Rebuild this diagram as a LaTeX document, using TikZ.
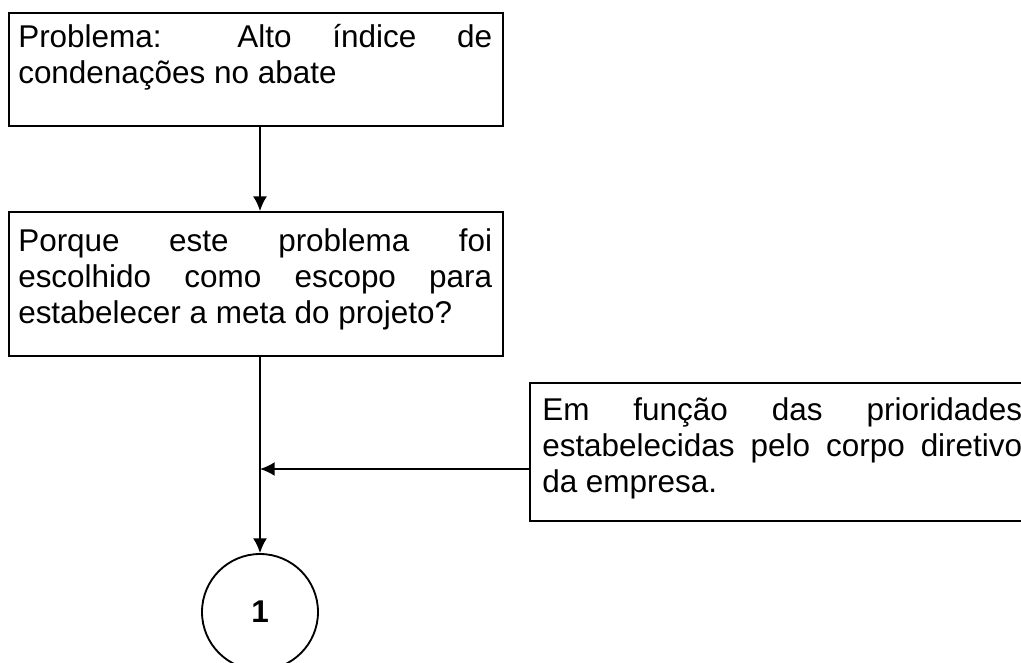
\documentclass[tikz,border=0pt]{standalone}
\usepackage{fontspec}
\setmainfont{Liberation Sans}
\usetikzlibrary{arrows.meta}

\tikzset{
  caixa/.style={draw, line width=1.4pt, inner sep=0pt, minimum width=370.5pt},
  texto/.style={anchor=base west, inner sep=0pt, align=justify,
    font=\fontsize{23.6}{27}\selectfont},
  seta/.style={line width=1.4pt, -{Latex[length=11pt,width=10.5pt]}},
}

\begin{document}
\begin{tikzpicture}[x=0.75pt, y=-0.75pt]
\useasboundingbox (0,0) rectangle (1021,663);
% caixas
\node[caixa, minimum height=84.75pt] (prob) at (256,69.5) {};
\node[caixa, minimum height=108pt] (porque) at (256,284) {};
\node[caixa, minimum width=377.25pt, minimum height=103.5pt] (resp) at (781.5,452) {};
\node[draw, line width=1.4pt, circle, minimum size=87pt, inner sep=0pt,
  font=\fontsize{23.6}{27}\selectfont\bfseries] (um) at (260,612) {1};
% textos
\node[texto, text width=355.5pt] (tprob) at (18,48)
  {Problema: Alto índice de\linebreak condenações no abate};
\node[texto, text width=355.5pt] (tporque) at (18,252)
  {Porque este problema foi\linebreak escolhido como escopo para\linebreak estabelecer a meta do projeto?};
\node[texto, text width=360pt] (tresp) at (542,420)
  {Em função das prioridades\linebreak estabelecidas pelo corpo diretivo\linebreak da empresa.};
% setas
\coordinate (junta) at (260,469);
\draw[seta] (prob.south -| um) -- (porque.north -| um);
\draw[seta] (porque.south -| um) -- (um.north);
\draw[seta] (resp.west |- junta) -- (junta);
\end{tikzpicture}
\end{document}
